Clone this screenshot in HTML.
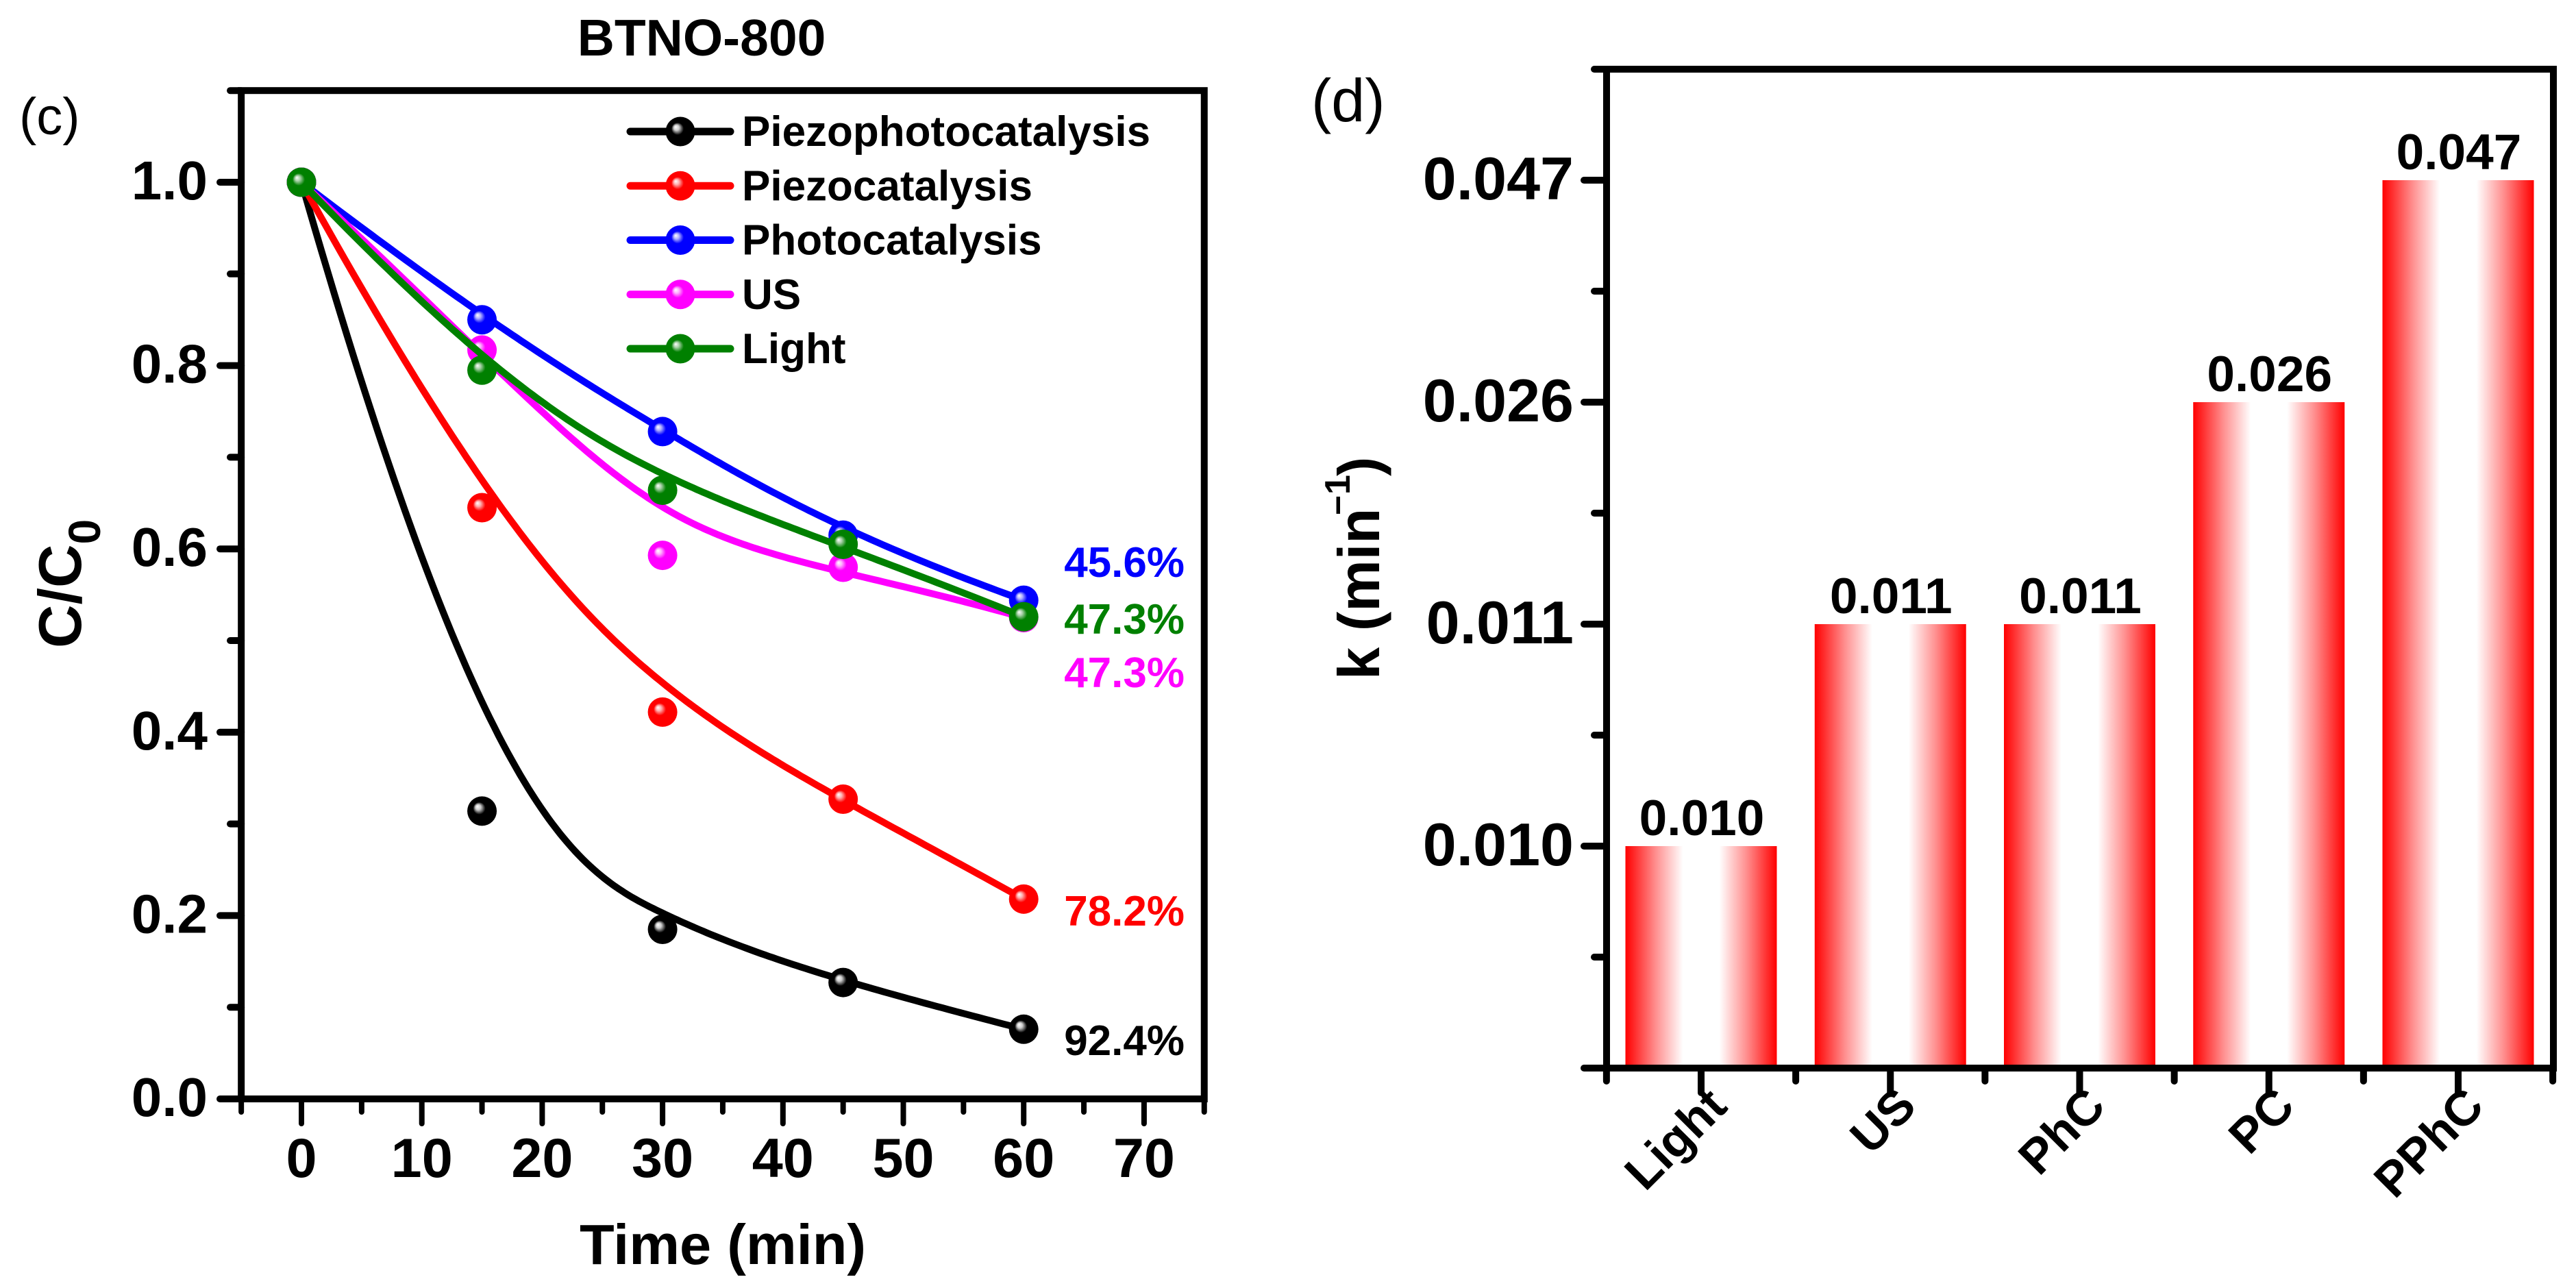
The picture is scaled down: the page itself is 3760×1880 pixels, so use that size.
<!DOCTYPE html>
<html lang="en">
<head>
<meta charset="utf-8">
<title>BTNO-800 degradation kinetics</title>
<style>
  html, body { margin: 0; padding: 0; background: #fff; }
  svg { display: block; }
  text { font-family: "Liberation Sans", Arial, sans-serif; fill: #000; }
  .b { font-weight: bold; }
</style>
</head>
<body>
<svg id="fig" xmlns="http://www.w3.org/2000/svg" width="3760" height="1880" viewBox="0 0 3760 1880">
  <defs>
    <linearGradient id="bar-fill" x1="0" y1="0" x2="1" y2="0">
      <stop offset="0" stop-color="#ff0000"/>
      <stop offset="0.2" stop-color="#ff8f8f"/>
      <stop offset="0.38" stop-color="#ffffff"/>
      <stop offset="0.62" stop-color="#ffffff"/>
      <stop offset="0.8" stop-color="#ff8f8f"/>
      <stop offset="1" stop-color="#ff0000"/>
    </linearGradient>
    <radialGradient id="ball-black" cx="0.5" cy="0.5" r="0.5" fx="0.34" fy="0.34"><stop offset="0" stop-color="#fff"/><stop offset="0.18" stop-color="#ccc"/><stop offset="0.42" stop-color="#000"/></radialGradient>
    <radialGradient id="ball-red" cx="0.5" cy="0.5" r="0.5" fx="0.34" fy="0.34"><stop offset="0" stop-color="#fff"/><stop offset="0.18" stop-color="#ffb0b0"/><stop offset="0.42" stop-color="#f00"/></radialGradient>
    <radialGradient id="ball-blue" cx="0.5" cy="0.5" r="0.5" fx="0.34" fy="0.34"><stop offset="0" stop-color="#fff"/><stop offset="0.18" stop-color="#b0b0ff"/><stop offset="0.42" stop-color="#00f"/></radialGradient>
    <radialGradient id="ball-magenta" cx="0.5" cy="0.5" r="0.5" fx="0.34" fy="0.34"><stop offset="0" stop-color="#fff"/><stop offset="0.18" stop-color="#ffb0ff"/><stop offset="0.42" stop-color="#f0f"/></radialGradient>
    <radialGradient id="ball-green" cx="0.5" cy="0.5" r="0.5" fx="0.34" fy="0.34"><stop offset="0" stop-color="#fff"/><stop offset="0.18" stop-color="#a8d0a8"/><stop offset="0.42" stop-color="#008000"/></radialGradient>
  </defs>

  <text class="b" x="1024" y="81" font-size="75" text-anchor="middle">BTNO-800</text>
  <text x="28" y="196" font-size="76">(c)</text>
  <text x="1914" y="177" font-size="88">(d)</text>

  <g id="c-ticks"></g>
  <g id="c-series"></g>
  <g id="c-legend"></g>

  <text class="b" transform="translate(118,946) rotate(-90)" font-size="88">C/C<tspan font-size="66" dy="28">0</tspan></text>
  <text class="b" x="1055" y="1845" font-size="83" text-anchor="middle">Time (min)</text>

  <text class="b" x="1729" y="842" font-size="62" text-anchor="end" style="fill:#0000ff">45.6%</text>
  <text class="b" x="1729" y="925" font-size="62" text-anchor="end" style="fill:#008000">47.3%</text>
  <text class="b" x="1729" y="1003" font-size="62" text-anchor="end" style="fill:#ff00ff">47.3%</text>
  <text class="b" x="1729" y="1351" font-size="62" text-anchor="end" style="fill:#ff0000">78.2%</text>
  <text class="b" x="1729" y="1540" font-size="62" text-anchor="end" style="fill:#000000">92.4%</text>

  <g id="d-bars"></g>
  <g id="d-ticks"></g>

  <text class="b" transform="translate(2013,992) rotate(-90)" font-size="85">k (min<tspan font-size="50" x="240" y="-43">&#8722;</tspan><tspan font-size="52" x="270" y="-43">1</tspan><tspan font-size="85" x="297" y="0">)</tspan></text>
</svg>

<script>
// ----- Panel (c) data -----
const times = [0, 15, 30, 45, 60];
const seriesNames = ["Piezophotocatalysis", "Piezocatalysis", "Photocatalysis", "US", "Light"];
const seriesColors = ["#000000", "#ff0000", "#0000ff", "#ff00ff", "#008000"];
const seriesBalls = ["ball-black", "ball-red", "ball-blue", "ball-magenta", "ball-green"];
const piezophotocatalysis = [1.0, 0.314, 0.185, 0.127, 0.076];
const piezocatalysis = [1.0, 0.645, 0.422, 0.327, 0.218];
const photocatalysis = [1.0, 0.85, 0.728, 0.615, 0.544];
const us = [1.0, 0.817, 0.593, 0.58, 0.525];
const light = [1.0, 0.795, 0.664, 0.605, 0.526];
const xTickLabelsC = [0, 10, 20, 30, 40, 50, 60, 70];
const xMinorTicksC = [-5, 5, 15, 25, 35, 45, 55, 65, 75];
const yTickLabelsC = ["0.0", "0.2", "0.4", "0.6", "0.8", "1.0"];
const yMinorTicksC = [0.1, 0.3, 0.5, 0.7, 0.9, 1.1];

// ----- Panel (d) data -----
const categories = ["Light", "US", "PhC", "PC", "PPhC"];
const rateValues = [0.010, 0.011, 0.011, 0.026, 0.047];
const rateTickValues = [0, 0.010, 0.011, 0.026, 0.047];
const rateTickLabels = ["", "0.010", "0.011", "0.026", "0.047"];

const NS = "http://www.w3.org/2000/svg";
function make(tag, attrs, parent) {
  const el = document.createElementNS(NS, tag);
  for (const k in attrs) el.setAttribute(k, attrs[k]);
  parent.appendChild(el);
  return el;
}
const tickC = document.getElementById("c-ticks");
const seriesC = document.getElementById("c-series");
const legendC = document.getElementById("c-legend");
const barsD = document.getElementById("d-bars");
const tickD = document.getElementById("d-ticks");

// ----- Axis functions -----
function xC(t) { return 440 + 17.57 * t; }
function yC(v) { return 1604 - 1338 * v; }
function bandPos(v) {
  const n = rateTickValues.length;
  for (let i = 1; i < n; i++) {
    if (v <= rateTickValues[i]) {
      return i - 1 + (v - rateTickValues[i - 1]) / (rateTickValues[i] - rateTickValues[i - 1]);
    }
  }
  return n - 1 + (v - rateTickValues[n - 1]) / (rateTickValues[n - 1] - rateTickValues[n - 2]);
}
function yPosD(p) { return 1559 - 324 * p; }
function yD(v) { return yPosD(bandPos(v)); }
function xD(i) { return 2483 + 276.25 * i; }

// Clamped cubic B-spline through the series' control points
function bspline(ctrl) {
  const n = ctrl.length, p = 3;
  const knots = [];
  for (let i = 0; i <= p; i++) knots.push(0);
  for (let i = 1; i < n - p; i++) knots.push(i);
  for (let i = 0; i <= p; i++) knots.push(n - p);
  const pts = [];
  const steps = 160;
  for (let s = 0; s <= steps; s++) {
    const u = Math.min((n - p) * s / steps, (n - p) - 1e-9);
    let k = p;
    while (k < n - 1 && u >= knots[k + 1]) k++;
    const d = [];
    for (let j = 0; j <= p; j++) d.push(ctrl[j + k - p].slice());
    for (let r = 1; r <= p; r++) {
      for (let j = p; j >= r; j--) {
        const a = (u - knots[j + k - p]) / (knots[j + 1 + k - r] - knots[j + k - p]);
        d[j][0] = (1 - a) * d[j - 1][0] + a * d[j][0];
        d[j][1] = (1 - a) * d[j - 1][1] + a * d[j][1];
      }
    }
    pts.push(d[p][0].toFixed(1) + " " + d[p][1].toFixed(1));
  }
  return "M" + pts.join("L");
}

// ----- Panel (c) frame -----
const frameC = make("rect", { x: xC(-5), y: yC(1.1), width: xC(75) - xC(-5), height: yC(0) - yC(1.1), fill: "none", stroke: "#000", "stroke-width": 10 }, tickC);



xTickLabelsC.forEach(function (t) {
  const tick = make("line", { x1: xC(t), x2: xC(t), y1: yC(0), y2: yC(0) + 36, stroke: "#000", "stroke-width": 8, "stroke-linecap": "round" }, tickC);
  
  
  const label = make("text", { x: xC(t), y: 1718, "font-size": 81, "text-anchor": "middle", class: "b" }, tickC);
  
  
  label.textContent = t;
});
xMinorTicksC.forEach(function (t) {
  const tick = make("line", { x1: xC(t), x2: xC(t), y1: yC(0), y2: yC(0) + 19, stroke: "#000", "stroke-width": 8, "stroke-linecap": "round" }, tickC);
  
  
});
yTickLabelsC.forEach(function (s) {
  const v = parseFloat(s);
  const tick = make("line", { x1: xC(-5), x2: 321, y1: yC(v), y2: yC(v), stroke: "#000", "stroke-width": 10, "stroke-linecap": "round" }, tickC);
  
  
  const label = make("text", { x: 303, y: yC(v) + 25, "font-size": 80, "text-anchor": "end", class: "b" }, tickC);
  
  
  label.textContent = s;
});
yMinorTicksC.forEach(function (v) {
  const tick = make("line", { x1: xC(-5), x2: 336, y1: yC(v), y2: yC(v), stroke: "#000", "stroke-width": 10, "stroke-linecap": "round" }, tickC);
  
  
});

// ----- Panel (c) series -----
const allSeries = [piezophotocatalysis, piezocatalysis, photocatalysis, us, light];
allSeries.forEach(function (vals, s) {
  const ctrl = vals.map(function (v, i) { return [xC(times[i]), yC(v)]; });
  const path = make("path", { d: bspline(ctrl), fill: "none", stroke: seriesColors[s], "stroke-width": 10, "stroke-linejoin": "round" }, seriesC);
  
  
  vals.forEach(function (v, i) {
    const dot = make("circle", { cx: xC(times[i]), cy: yC(v), r: 21.5, fill: "url(#" + seriesBalls[s] + ")" }, seriesC);
    
    
  });
});

// ----- Legend -----
seriesNames.forEach(function (name, s) {
  const ly = 192 + 79.25 * s;
  const line = make("line", { x1: 920, x2: 1066, y1: ly, y2: ly, stroke: seriesColors[s], "stroke-width": 11, "stroke-linecap": "round" }, legendC);
  
  
  const dot = make("circle", { cx: 993, cy: ly, r: 21.5, fill: "url(#" + seriesBalls[s] + ")" }, legendC);
  
  
  const label = make("text", { x: 1083, y: ly + 21, "font-size": 62, class: "b" }, legendC);
  
  
  label.textContent = name;
});

// ----- Panel (d) bars -----
categories.forEach(function (cat, i) {
  const top = yD(rateValues[i]);
  const bar = make("rect", { x: xD(i) - 110.5, y: top, width: 221, height: yPosD(0) - top, fill: "url(#bar-fill)" }, barsD);
  
  
  const value = make("text", { x: xD(i) + 1, y: top - 16, "font-size": 73, "text-anchor": "middle", class: "b" }, barsD);
  
  
  value.textContent = rateValues[i].toFixed(3);
});

// ----- Panel (d) frame -----
const frameD = make("rect", { x: 2345, y: yPosD(4.5), width: 1382, height: yPosD(0) - yPosD(4.5), fill: "none", stroke: "#000", "stroke-width": 10 }, tickD);



categories.forEach(function (cat, i) {
  const tick = make("line", { x1: xD(i), x2: xD(i), y1: yPosD(0), y2: yPosD(0) + 36, stroke: "#000", "stroke-width": 10, "stroke-linecap": "round" }, tickD);
  
  
  const minor = make("line", { x1: xD(i - 0.5), x2: xD(i - 0.5), y1: yPosD(0), y2: yPosD(0) + 19, stroke: "#000", "stroke-width": 10, "stroke-linecap": "round" }, tickD);
  
  
  const label = make("text", { transform: "translate(" + (xD(i) + 41) + ",1618) rotate(-45)", "font-size": 71, "text-anchor": "end", class: "b" }, tickD);
  
  
  label.textContent = cat;
});
const lastMinor = make("line", { x1: xD(4.5), x2: xD(4.5), y1: yPosD(0), y2: yPosD(0) + 19, stroke: "#000", "stroke-width": 10, "stroke-linecap": "round" }, tickD);



rateTickValues.forEach(function (v, i) {
  const ty = yD(v);
  const tick = make("line", { x1: 2345, x2: 2312, y1: ty, y2: ty, stroke: "#000", "stroke-width": 10, "stroke-linecap": "round" }, tickD);
  
  
  const minor = make("line", { x1: 2345, x2: 2327, y1: yPosD(i + 0.5), y2: yPosD(i + 0.5), stroke: "#000", "stroke-width": 10, "stroke-linecap": "round" }, tickD);
  
  
  if (rateTickLabels[i]) {
    const label = make("text", { x: 2297, y: ty + 28, "font-size": 88, "text-anchor": "end", class: "b" }, tickD);
    
    
    label.textContent = rateTickLabels[i];
  }
});
</script>
</body>
</html>
